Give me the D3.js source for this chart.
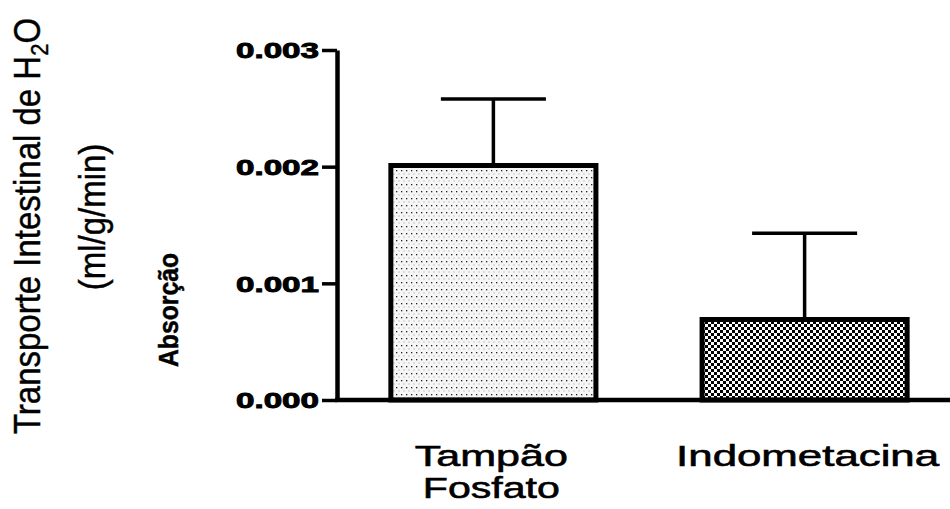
<!DOCTYPE html>
<html>
<head>
<meta charset="utf-8">
<script src="https://cdn.jsdelivr.net/npm/d3@7"></script>
<style>
  body { margin: 0; background: #fff; }
  text { font-family: "Liberation Sans", Arial, sans-serif; fill: #000; }
</style>
</head>
<body>
<div id="chart"></div>
<script>
// data
const groups = ["Tampão Fosfato", "Indometacina"];
const means = [0.00201, 0.00069];
const errs = [0.00057, 0.00074];
const yTicks = [0, 0.001, 0.002, 0.003];

const W = 950, H = 509;
const svg = d3.select("#chart").append("svg")
    .attr("width", W).attr("height", H)
    .style("background-color", "#fff");

// patterns for the two bars
const defs = svg.append("defs");
const dots = defs.append("pattern")
    .attr("id", "dots").attr("patternUnits", "userSpaceOnUse")
    .attr("width", 5).attr("height", 7);
dots.append("rect").attr("width", 5).attr("height", 7).attr("fill", "#f6f6f6");
dots.append("rect").attr("x", 1).attr("y", 2).attr("width", 1.3).attr("height", 1.3).attr("fill", "#222");
dots.append("rect").attr("x", 3.5).attr("y", 5.5).attr("width", 1).attr("height", 1).attr("fill", "#999");

const check = defs.append("pattern")
    .attr("id", "check").attr("patternUnits", "userSpaceOnUse")
    .attr("width", 6).attr("height", 6);
check.append("rect").attr("width", 6).attr("height", 6).attr("fill", "#fff");
check.append("rect").attr("width", 3).attr("height", 3).attr("fill", "#000");
check.append("rect").attr("x", 3).attr("y", 3).attr("width", 3).attr("height", 3).attr("fill", "#000");

const fills = ["url(#dots)", "url(#check)"];

// scales
const y = d3.scaleLinear().domain([0, 0.003]).range([400, 50]);
const x = d3.scaleBand().domain(groups)
    .range([337, 961])
    .paddingInner(0.325)
    .paddingOuter(0.165);

// bars
const bw = 5;
svg.selectAll("rect.bar")
    .data(groups)
    .join("rect")
    .attr("class", "bar")
    .attr("x", d => x(d) + bw / 2)
    .attr("width", x.bandwidth() - bw)
    .attr("y", (d, i) => y(means[i]))
    .attr("height", (d, i) => y(0) - y(means[i]))
    .attr("fill", (d, i) => fills[i])
    .attr("stroke", "#000")
    .attr("stroke-width", bw);

// error bars (upper only)
const eb = svg.append("g").attr("stroke", "#000").attr("stroke-width", 3.5);
groups.forEach(function (d, i) {
    const cx = x(d) + x.bandwidth() / 2;
    eb.append("line")
        .attr("x1", cx).attr("x2", cx)
        .attr("y1", y(means[i]) - bw / 2).attr("y2", y(means[i] + errs[i]));
    eb.append("line")
        .attr("x1", cx - x.bandwidth() / 4).attr("x2", cx + x.bandwidth() / 4)
        .attr("y1", y(means[i] + errs[i])).attr("y2", y(means[i] + errs[i]));
});

// y axis
const yAxis = svg.append("g")
    .attr("transform", "translate(337,0)")
    .call(d3.axisLeft(y).tickValues(yTicks).tickFormat(d3.format(".3f"))
        .tickSize(15).tickSizeOuter(0).tickPadding(3));
yAxis.select(".domain").attr("stroke-width", 4.5);
yAxis.selectAll(".tick line").attr("stroke-width", 3.5);
yAxis.selectAll(".tick text")
    .attr("font-size", 22).attr("font-weight", "bold")
    .attr("stroke", "#000").attr("stroke-width", 0.9)
    .attr("textLength", 83).attr("lengthAdjust", "spacingAndGlyphs")
    .attr("dy", "0.36em");

// x axis
const xAxis = svg.append("g")
    .attr("transform", "translate(0,400)")
    .call(d3.axisBottom(x).tickSize(0).tickSizeOuter(0).tickFormat(""));
xAxis.select(".domain").attr("d", "M335,0H950").attr("stroke-width", 4.5);

// category labels
const labelLines = [["Tampão", "Fosfato"], ["Indometacina"]];
const lineLen = { "Tampão": 153, "Fosfato": 137, "Indometacina": 263 };
groups.forEach(function (d, i) {
    const cx = x(d) + x.bandwidth() / 2;
    labelLines[i].forEach(function (t, j) {
        svg.append("text")
            .attr("x", cx + (i == 0 ? -2 : 3))
            .attr("y", 466 + j * 32)
            .attr("text-anchor", "middle")
            .attr("font-size", 29)
            .attr("stroke", "#000").attr("stroke-width", 0.6)
            .attr("textLength", lineLen[t])
            .attr("lengthAdjust", "spacingAndGlyphs")
            .text(t);
    });
});

// y titles
const t1 = svg.append("text")
    .attr("transform", "translate(40,226) rotate(-90) scale(1,1.1)")
    .attr("text-anchor", "middle")
    .attr("font-size", 33)
    .attr("stroke", "#000").attr("stroke-width", 0.4);
t1.append("tspan").text("Transporte Intestinal de H");
t1.append("tspan").attr("font-size", 22).attr("dy", 7).text("2");
t1.append("tspan").attr("dy", -7).text("O");

svg.append("text")
    .attr("transform", "translate(105,217) rotate(-90) scale(1,1.1)")
    .attr("text-anchor", "middle")
    .attr("font-size", 33)
    .attr("stroke", "#000").attr("stroke-width", 0.4)
    .text("(ml/g/min)");

svg.append("text")
    .attr("transform", "translate(178,310) rotate(-90) scale(1,1.25)")
    .attr("text-anchor", "middle")
    .attr("font-size", 22)
    .attr("font-weight", "bold")
    .attr("stroke", "#000").attr("stroke-width", 0.4)
    .attr("textLength", 114)
    .attr("lengthAdjust", "spacingAndGlyphs")
    .text("Absorção");
</script>
</body>
</html>
